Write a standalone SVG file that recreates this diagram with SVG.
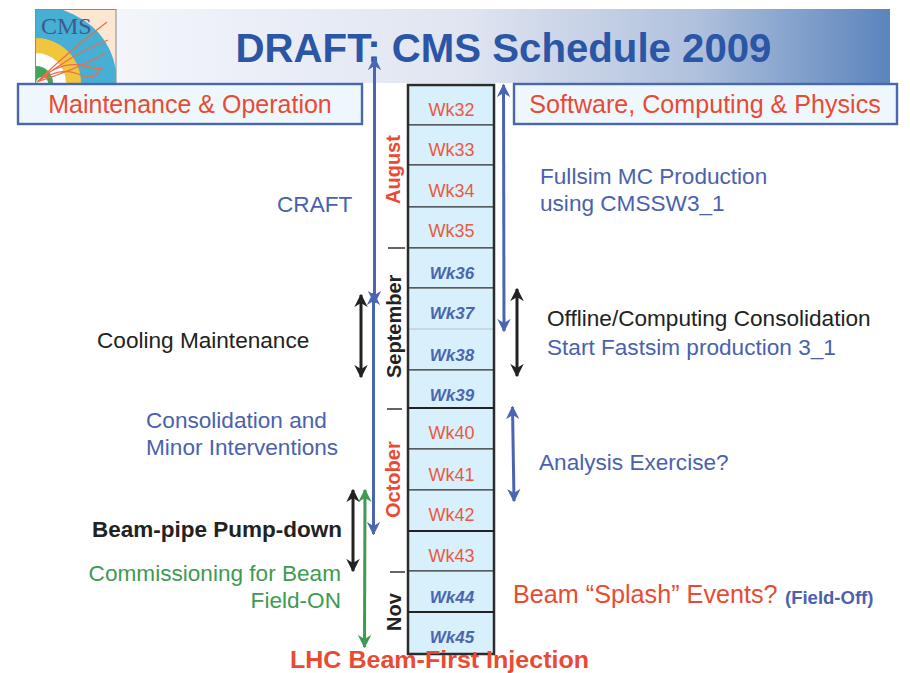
<svg xmlns="http://www.w3.org/2000/svg" width="910" height="673" viewBox="0 0 910 673">
<style>
text{font-family:"Liberation Sans",Arial,sans-serif}
.box{fill:#eef8fc;stroke:#4a66b0;stroke-width:2.4}
.cell{fill:#d8effc;stroke:#2b2b2b;stroke-width:1}
.red{fill:#ea4a33}.blue{fill:#4a62ad}.blk{fill:#222}.grn{fill:#3f9a52}
.wr{fill:#ea5a40;font-size:18px}.wb{fill:#4a66b0;font-size:17px;font-style:italic;font-weight:bold}
.lab{font-size:22.600px}
.month{font-size:20px;font-weight:bold}
.conn{fill:none;stroke-width:3}
</style>
<defs>
<linearGradient id="bn" x1="0" x2="1" y1="0" y2="0"><stop offset="0" stop-color="#f3f5fb"/><stop offset=".45" stop-color="#e0e5f1"/><stop offset=".75" stop-color="#b0c1dd"/><stop offset="1" stop-color="#5b84bc"/></linearGradient>
<marker id="ab" viewBox="0 0 10 10" refX="9" refY="5" markerWidth="4.500" markerHeight="4.500" orient="auto-start-reverse" markerUnits="strokeWidth"><path d="M0 0L10 5L0 10L3 5Z" fill="#4a66b0"/></marker>
<marker id="ak" viewBox="0 0 10 10" refX="9" refY="5" markerWidth="4.500" markerHeight="4.500" orient="auto-start-reverse" markerUnits="strokeWidth"><path d="M0 0L10 5L0 10L3 5Z" fill="#222"/></marker>
<marker id="ag" viewBox="0 0 10 10" refX="9" refY="5" markerWidth="4.500" markerHeight="4.500" orient="auto-start-reverse" markerUnits="strokeWidth"><path d="M0 0L10 5L0 10L3 5Z" fill="#3f9a52"/></marker>
<clipPath id="lg"><rect x="36" y="10" width="80" height="73"/></clipPath>
</defs>
<rect width="910" height="673" fill="#fff"/>
<g id="banner">
<rect x="116" y="9" width="774" height="74" fill="url(#bn)"/>
<text x="503.500" y="62" text-anchor="middle" font-size="40.200" font-weight="bold" fill="#2b55a5">DRAFT: CMS Schedule 2009</text>
</g>
<g id="logo">
<rect x="35.500" y="9.500" width="80.500" height="73.500" fill="#fde6d2" stroke="#8a8a80"/>
<g clip-path="url(#lg)">
<path d="M36 10H63Q108 26 116 70V83H36Z" fill="#47aed4"/>
<circle cx="36" cy="83" r="45" fill="#f2c53f"/>
<circle cx="36" cy="83" r="30" fill="#fff"/>
<circle cx="36" cy="83" r="17" fill="#45a45a"/>
<circle cx="42" cy="83" r="6" fill="#fff"/>
<path d="M37 82Q70 50 107 22M37 82Q70 55 108 40M37 82Q85 66 105 53M37 82Q60 60 85 66T100 68M37 82Q60 66 78 74T100 68" fill="none" stroke="#e8704e" stroke-width="1.300"/>
</g>
<text x="41" y="34" font-size="24" fill="#3d5a8e" style="font-family:'Liberation Serif',serif">CMS</text>
</g>
<g id="hdr-left">
<rect class="box" x="18" y="84" width="344" height="40"/>
<text x="190" y="113" text-anchor="middle" font-size="25" class="red">Maintenance &amp; Operation</text>
</g>
<g id="hdr-right">
<rect class="box" x="514" y="84" width="383" height="40"/>
<text x="705" y="113" text-anchor="middle" font-size="25.100" class="red">Software, Computing &amp; Physics</text>
</g>
<g id="weeks">
<rect class="cell" x="408" y="85" width="86" height="40"/><text class="wr" x="451.500" y="116" text-anchor="middle">Wk32</text>
<rect class="cell" x="408" y="125" width="86" height="40"/><text class="wr" x="451.500" y="156" text-anchor="middle">Wk33</text>
<rect class="cell" x="408" y="165" width="86" height="42"/><text class="wr" x="451.500" y="197" text-anchor="middle">Wk34</text>
<rect class="cell" x="408" y="207" width="86" height="41"/><text class="wr" x="451.500" y="237" text-anchor="middle">Wk35</text>
<rect class="cell" x="408" y="248" width="86" height="40"/><text class="wb" x="452" y="279" text-anchor="middle">Wk36</text>
<rect class="cell" x="408" y="288" width="86" height="41"/><text class="wb" x="452" y="319" text-anchor="middle">Wk37</text>
<rect x="408" y="329" width="86" height="41" fill="#d8effc"/><line x1="408" x2="494" y1="329" y2="329" stroke="#c5d8e4" stroke-width="2"/><line x1="408" x2="494" y1="370" y2="370" stroke="#2b2b2b"/><text class="wb" x="452" y="361" text-anchor="middle">Wk38</text>
<rect class="cell" x="408" y="370" width="86" height="38"/><text class="wb" x="452" y="401" text-anchor="middle">Wk39</text>
<rect class="cell" x="408" y="408" width="86" height="41"/><text class="wr" x="451.500" y="439" text-anchor="middle">Wk40</text>
<rect class="cell" x="408" y="449" width="86" height="41"/><text class="wr" x="451.500" y="481" text-anchor="middle">Wk41</text>
<rect class="cell" x="408" y="490" width="86" height="41"/><text class="wr" x="451.500" y="521" text-anchor="middle">Wk42</text>
<rect class="cell" x="408" y="531" width="86" height="40"/><text class="wr" x="451.500" y="562" text-anchor="middle">Wk43</text>
<rect class="cell" x="408" y="571" width="86" height="41"/><text class="wb" x="452" y="603" text-anchor="middle">Wk44</text>
<rect class="cell" x="408" y="612" width="86" height="42"/><text class="wb" x="452" y="643" text-anchor="middle">Wk45</text>
<path d="M408 85H494V654H408Z" fill="none" stroke="#2b2b2b" stroke-width="2.500"/>
<line x1="408" x2="494" y1="408" y2="408" stroke="#222" stroke-width="2"/>
<line x1="408" x2="494" y1="531" y2="531" stroke="#222" stroke-width="1.800"/>
<line x1="408" x2="494" y1="612" y2="612" stroke="#222" stroke-width="1.800"/>
</g>
<g id="months">
<text class="month red" transform="translate(400 204) rotate(-90)">August</text>
<text class="month blk" transform="translate(401 378) rotate(-90)">September</text>
<text class="month red" transform="translate(400 518) rotate(-90)">October</text>
<text class="month blk" transform="translate(401 631) rotate(-90)">Nov</text>
<path d="M388 248H405M387 409H402M390 572H405" stroke="#333" stroke-width="1.500" fill="none"/>
</g>
<g id="connectors" class="conn">
<line x1="374.500" y1="58" x2="374.500" y2="303" stroke="#4a66b0" marker-start="url(#ab)" marker-end="url(#ab)"/>
<line x1="373.500" y1="293" x2="373.500" y2="534" stroke="#4a66b0" marker-start="url(#ab)" marker-end="url(#ab)"/>
<line x1="503.500" y1="85" x2="504" y2="331" stroke="#4a66b0" marker-start="url(#ab)" marker-end="url(#ab)"/>
<line x1="361" y1="295" x2="361" y2="377" stroke="#222" marker-start="url(#ak)" marker-end="url(#ak)"/>
<line x1="517" y1="289" x2="517" y2="376" stroke="#222" marker-start="url(#ak)" marker-end="url(#ak)"/>
<line x1="512.500" y1="407" x2="514" y2="501" stroke="#4a66b0" marker-start="url(#ab)" marker-end="url(#ab)"/>
<line x1="353" y1="490" x2="353" y2="571" stroke="#222" marker-start="url(#ak)" marker-end="url(#ak)"/>
<line x1="365" y1="490" x2="364.500" y2="647" stroke="#3f9a52" marker-start="url(#ag)" marker-end="url(#ag)"/>
</g>
<g id="labels">
<text class="lab blue" x="277" y="212">CRAFT</text>
<text class="lab blue" x="540" y="184">Fullsim MC Production</text>
<text class="lab blue" x="540" y="211">using CMSSW3_1</text>
<text class="lab blk" x="97" y="348">Cooling Maintenance</text>
<text class="lab blk" x="547" y="326">Offline/Computing Consolidation</text>
<text class="lab blue" x="547" y="355">Start Fastsim production 3_1</text>
<text class="lab blue" x="146" y="428">Consolidation and</text>
<text class="lab blue" x="146" y="455">Minor Interventions</text>
<text class="lab blue" x="539" y="470">Analysis Exercise?</text>
<text class="blk" x="92" y="537" font-size="22.500" font-weight="bold">Beam-pipe Pump-down</text>
<text class="lab grn" x="341" y="581" text-anchor="end">Commissioning for Beam</text>
<text class="lab grn" x="341" y="608" text-anchor="end">Field-ON</text>
<text class="red" x="513" y="603" font-size="25.200">Beam “Splash” Events?</text>
<text class="blue" x="785" y="604" font-size="18.500" font-weight="bold">(Field-Off)</text>
<text class="red" x="290" y="668" font-size="23.500" font-weight="bold" textLength="299" lengthAdjust="spacingAndGlyphs">LHC Beam-First Injection</text>
</g>
</svg>
